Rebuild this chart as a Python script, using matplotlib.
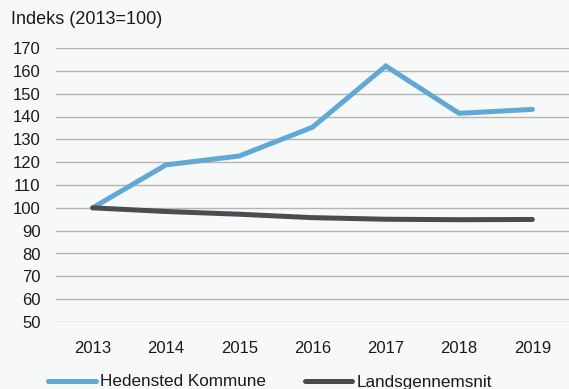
import matplotlib
matplotlib.use("Agg")
import matplotlib.pyplot as plt

years = ["2013", "2014", "2015", "2016", "2017", "2018", "2019"]
hedensted = [100, 118.8, 122.7, 135.3, 162.1, 141.4, 143.1]
landsgns = [100, 98.4, 97.2, 95.7, 95.0, 94.8, 94.9]

plt.rcParams["font.family"] = ["Liberation Sans", "DejaVu Sans"]
bg = "#f7f9f9"

fig = plt.figure(figsize=(5.69, 3.89), dpi=100, facecolor=bg)
ax = fig.add_axes([56 / 569, 1 - 322 / 389, 1 - 56 / 569, (322 - 48) / 389])
ax.set_facecolor(bg)

x = range(len(years))
ax.plot(x, hedensted, color="#62a8d5", lw=3.6, label="Hedensted Kommune",
        solid_capstyle="round", solid_joinstyle="miter", clip_on=False)
ax.plot(x, landsgns, color="#4b4c52", lw=3.6, label="Landsgennemsnit",
        solid_capstyle="round", clip_on=False)

ax.set_xlim(-0.5, len(years) - 0.5)
ax.set_ylim(50, 170)
ax.set_yticks(range(50, 171, 10))
ax.set_xticks(list(x))
ax.set_xticklabels(years)
ax.grid(axis="y", color="#b4b4b4", lw=1)
ax.set_axisbelow(True)
for s in ax.spines.values():
    s.set_visible(False)
ax.tick_params(length=0, labelsize=12, colors="#1a1a1a")
ax.tick_params(axis="x", pad=14)
ax.tick_params(axis="y", pad=11)

fig.text(11 / 569, 1 - 20 / 389, "Indeks (2013=100)", fontsize=13,
         va="center", ha="left", color="#1a1a1a")

fig.legend(loc="center left", bbox_to_anchor=(48 / 569, 1 - 382 / 389), ncol=2,
           frameon=False, fontsize=12.3, handlelength=2.8, handletextpad=0.25,
           columnspacing=2.25, borderpad=0, borderaxespad=0, labelcolor="#1a1a1a")

fig.savefig("out.png", dpi=100, facecolor=bg)
